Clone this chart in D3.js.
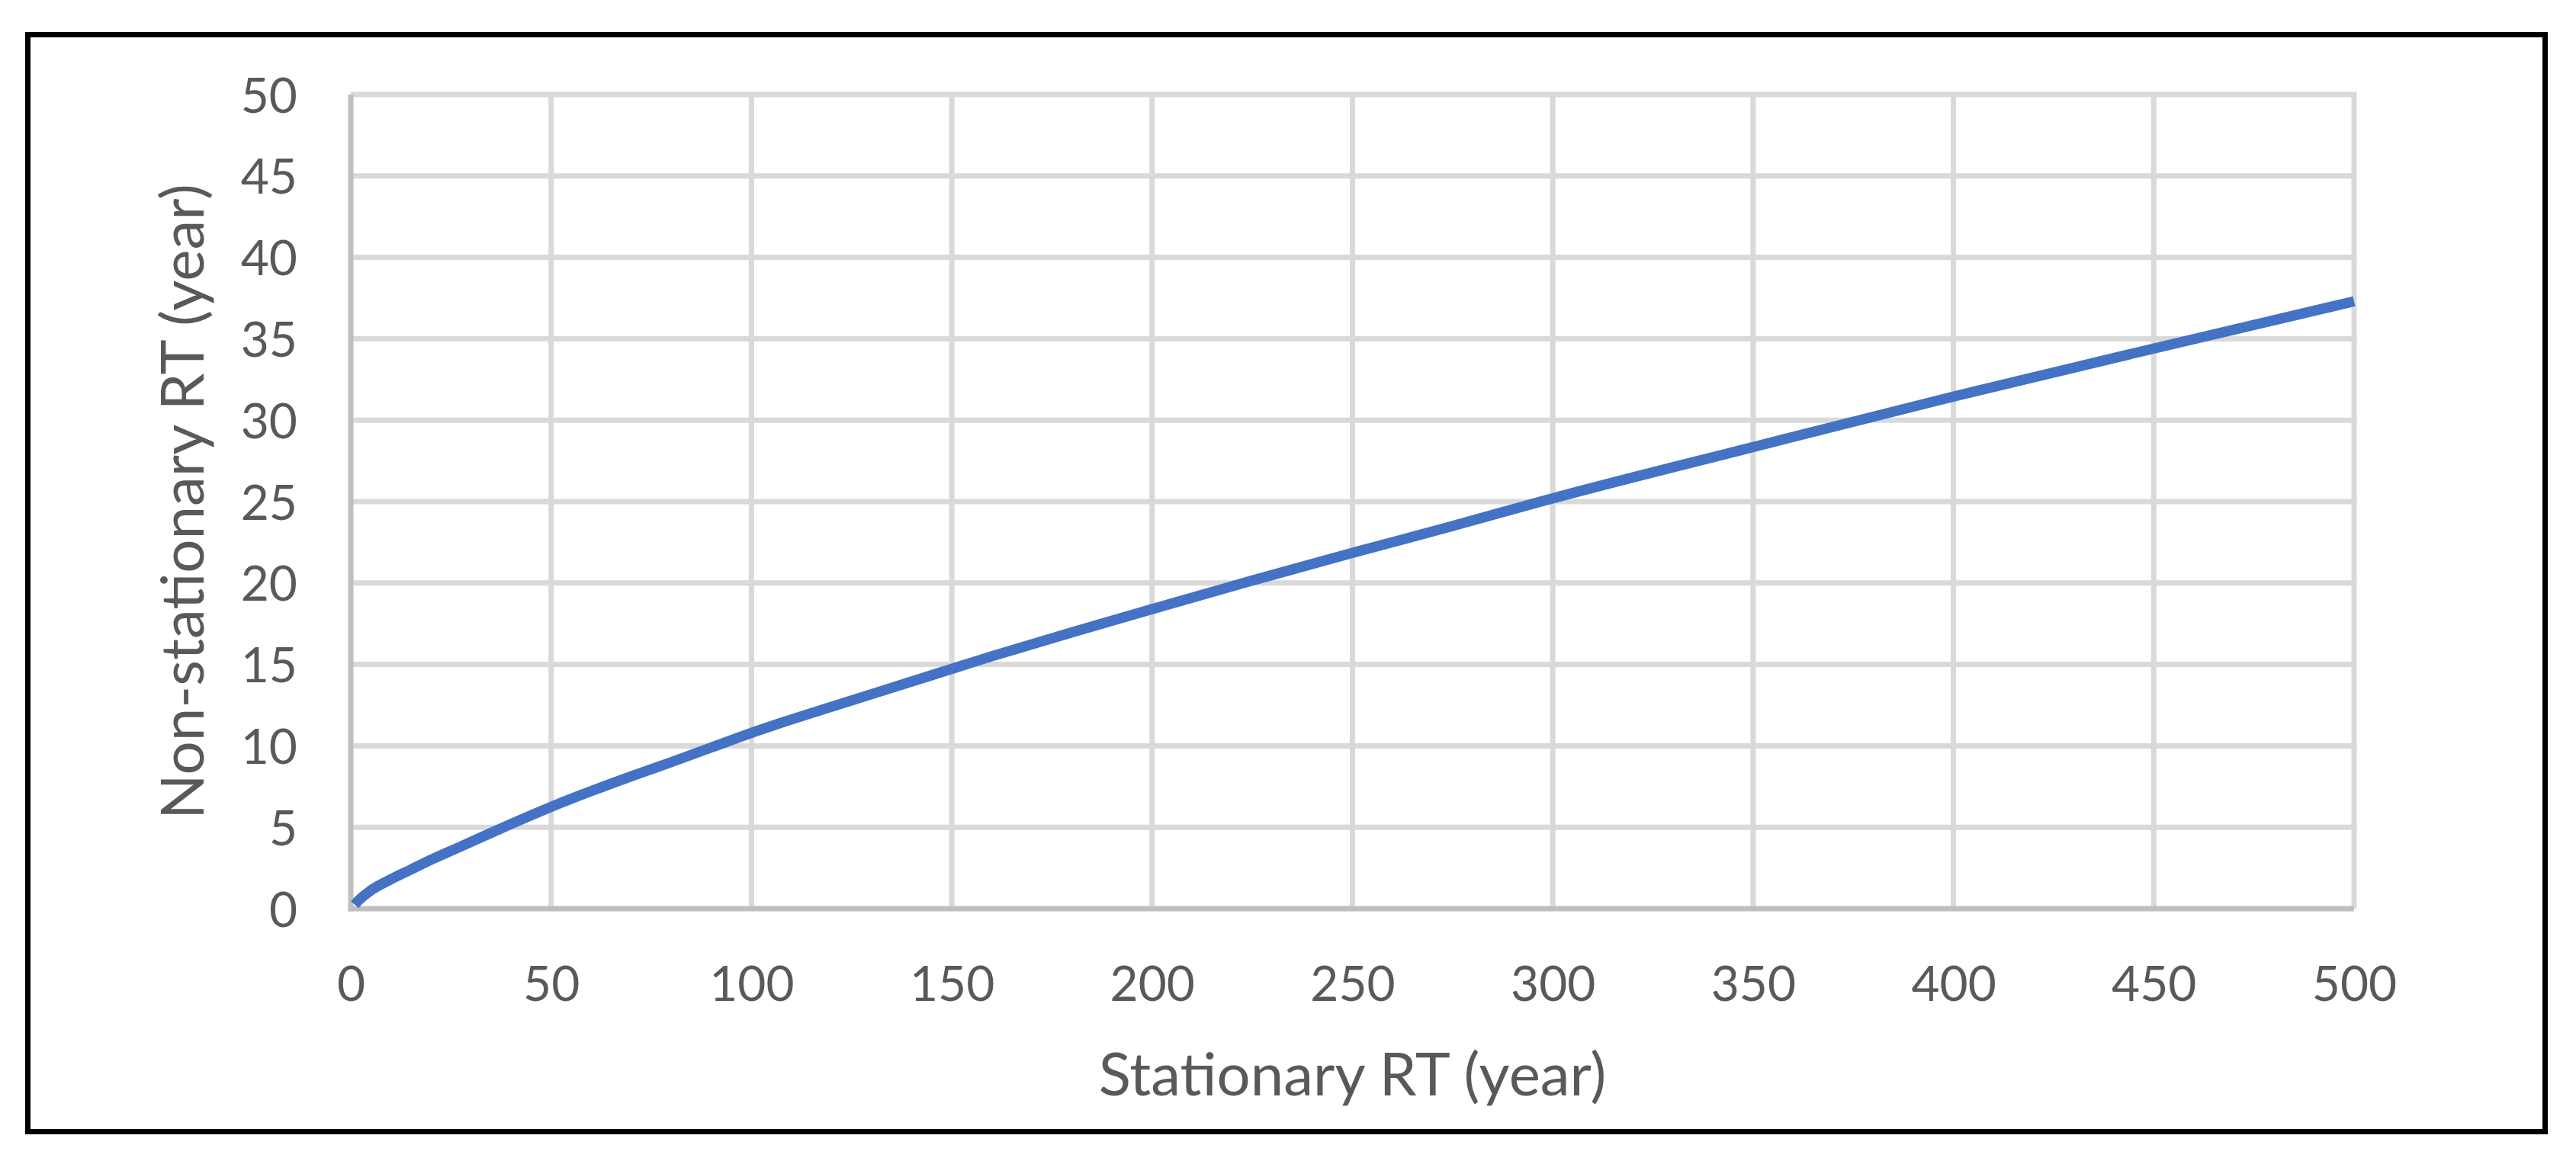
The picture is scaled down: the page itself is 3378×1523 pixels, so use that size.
<!DOCTYPE html>
<html>
<head>
<meta charset="utf-8">
<script src="https://cdn.jsdelivr.net/npm/d3@7"></script>
<style>
  html, body { margin: 0; padding: 0; background: #ffffff; }
  svg { display: block; }
</style>
</head>
<body>
<svg id="chart" width="3378" height="1523"></svg>
<script>
// ---- data ----
const stationaryRT = [1, 2, 5, 10, 15, 20, 25, 30, 40, 50, 60, 70, 80, 90, 100, 120, 140, 160, 180, 200, 225, 250, 275, 300, 350, 400, 450, 500];
const nonStationaryRT = [0.25, 0.52, 1.12, 1.8, 2.4, 3.0, 3.55, 4.1, 5.2, 6.25, 7.22, 8.13, 9.0, 9.9, 10.8, 12.4, 13.95, 15.5, 16.97, 18.4, 20.15, 21.85, 23.5, 25.2, 28.35, 31.45, 34.4, 37.3];
const xTicks = [0, 50, 100, 150, 200, 250, 300, 350, 400, 450, 500];
const yTicks = [0, 5, 10, 15, 20, 25, 30, 35, 40, 45, 50];
const xTitle = "Stationary RT (year)";
const yTitle = "Non-stationary RT (year)";

// ---- layout ----
const W = 3378, H = 1523;
const plot = { left: 460, right: 3087, top: 124, bottom: 1192 };
const svg = d3.select("#chart");
const font = "Lato, 'Open Sans', sans-serif";
const textColor = "#595959";

svg.append("rect").attr("x", 0).attr("y", 0).attr("width", W).attr("height", H).attr("fill", "#fff");

// outer frame
svg.append("rect")
  .attr("x", 36.5).attr("y", 45.5)
  .attr("width", 3337.5 - 36.5).attr("height", 1484.5 - 45.5)
  .attr("fill", "none").attr("stroke", "#000").attr("stroke-width", 7);

const x = d3.scaleLinear().domain([0, 500]).range([plot.left, plot.right]);
const y = d3.scaleLinear().domain([0, 50]).range([plot.bottom, plot.top]);

// gridlines
const grid = svg.append("g");
grid.selectAll("line.h").data(yTicks.filter(d => d > 0)).enter().append("line")
  .attr("x1", plot.left).attr("x2", plot.right + 3.5)
  .attr("y1", d => y(d)).attr("y2", d => y(d))
  .attr("stroke", "#d9d9d9").attr("stroke-width", 7);
grid.selectAll("line.v").data(xTicks.filter(d => d > 0)).enter().append("line")
  .attr("x1", d => x(d)).attr("x2", d => x(d))
  .attr("y1", plot.top).attr("y2", plot.bottom)
  .attr("stroke", "#d9d9d9").attr("stroke-width", 7);
// axis lines
svg.append("line")
  .attr("x1", x(0)).attr("x2", x(0)).attr("y1", plot.top).attr("y2", plot.bottom + 3.5)
  .attr("stroke", "#bfbfbf").attr("stroke-width", 7);
svg.append("line")
  .attr("x1", x(0) - 3.5).attr("x2", plot.right).attr("y1", y(0)).attr("y2", y(0))
  .attr("stroke", "#bfbfbf").attr("stroke-width", 7);

// axes (labels only)
const xAxis = svg.append("g")
  .attr("transform", `translate(0,${plot.bottom})`)
  .call(d3.axisBottom(x).tickValues(xTicks).tickSize(0).tickPadding(0).tickFormat(d3.format("d")));
xAxis.select(".domain").remove();
xAxis.selectAll("text")
  .attr("y", 121).attr("dy", 0)
  .attr("font-family", font).attr("font-size", 64).attr("fill", textColor);

const yAxis = svg.append("g")
  .attr("transform", `translate(${plot.left},0)`)
  .call(d3.axisLeft(y).tickValues(yTicks).tickSize(0).tickPadding(0).tickFormat(d3.format("d")));
yAxis.select(".domain").remove();
yAxis.selectAll("text")
  .attr("x", -70).attr("dy", "0.36em")
  .attr("font-family", font).attr("font-size", 64).attr("fill", textColor);

// series line
const line = d3.line()
  .x((d, i) => x(stationaryRT[i]))
  .y(d => y(d))
  .curve(d3.curveMonotoneX);
svg.append("path")
  .datum(nonStationaryRT)
  .attr("d", line)
  .attr("fill", "none")
  .attr("stroke", "#4472C4")
  .attr("stroke-width", 13.5)
  .attr("stroke-linejoin", "round")
  .attr("stroke-linecap", "butt");

// titles
svg.append("text")
  .attr("x", (plot.left + plot.right) / 2).attr("y", 1437)
  .attr("text-anchor", "middle")
  .attr("font-family", font).attr("font-size", 78).attr("fill", textColor)
  .text(xTitle);
svg.append("text")
  .attr("transform", `translate(267,${(plot.top + plot.bottom) / 2}) rotate(-90)`)
  .attr("text-anchor", "middle")
  .attr("font-family", font).attr("font-size", 78).attr("fill", textColor)
  .text(yTitle);
</script>
</body>
</html>
